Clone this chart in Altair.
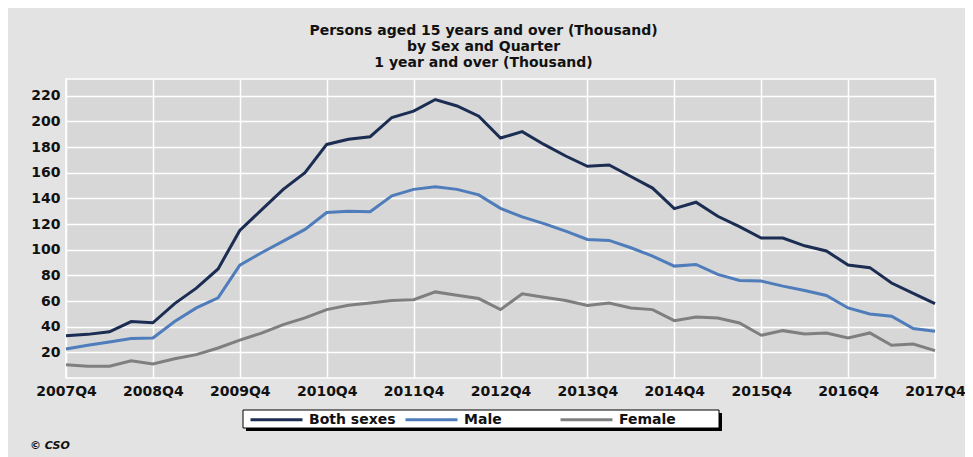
import altair as alt
import pandas as pd

# Quarter categories 2007Q4 .. 2017Q4
quarters = [f"{y}Q{q}" for y in range(2007, 2018) for q in range(1, 5)][3:]
year_labels = [f"{y}Q4" for y in range(2007, 2018)]

series = ["Both sexes", "Male", "Female"]
colors = ["#1b2d52", "#4f7cba", "#7f7f7f"]

both = [33, 34, 36, 44, 43, 58, 70, 85, 115, 131, 147, 160, 182, 186, 188, 203,
        208, 217, 212, 204, 187, 192, 182, 173, 165, 166, 157, 148, 132, 137, 126,
        118, 109, 109, 103, 99, 88, 86, 74, 66, 58]
male = [22.6, 25.5, 28, 30.7, 31.2, 44, 54.6, 62.4, 88, 97.6, 106.7, 115.8, 129,
        130, 129.6, 142, 147, 149, 147, 142.7, 132.2, 125.5, 120.3, 114.5, 108,
        107.2, 101.5, 95, 87.2, 88.5, 80.7, 76, 75.5, 71.6, 68.2, 64.3, 54.6, 49.9,
        48.1, 38.5, 36.4]
female = [10.4, 9.1, 9.1, 13.5, 10.9, 15, 18.2, 23.4, 29.5, 35, 41.6, 46.8, 53.3,
          56.7, 58.5, 60.4, 61, 67.1, 64.5, 61.9, 53.3, 65.6, 63, 60.4, 56.5, 58.5,
          54.6, 53.3, 44.7, 47.6, 46.8, 42.9, 33.3, 36.9, 34.3, 35.1, 31.2, 35.1,
          25.5, 26.5, 21.3]

y_ticks = list(range(20, 221, 20))

rows = []
for name, vals in zip(series, [both, male, female]):
    for q, v in zip(quarters, vals):
        rows.append({"quarter": q, "series": name, "value": v})
df = pd.DataFrame(rows)

FONT = "DejaVu Sans"

lines = alt.Chart(df).mark_line(strokeWidth=3).encode(
    x=alt.X("quarter:O",
            scale=alt.Scale(type="point", padding=0, domain=quarters),
            axis=alt.Axis(values=year_labels, labelAngle=0, title=None, grid=True,
                          gridColor="white", gridWidth=1.5, domain=False, ticks=False,
                          labelFont=FONT, labelFontWeight="bold", labelFontSize=14,
                          labelColor="#111111", labelPadding=6, labelOverlap=False,
                          labelBound=False)),
    y=alt.Y("value:Q",
            scale=alt.Scale(domain=[0, 233], nice=False, zero=False),
            axis=alt.Axis(values=y_ticks, title=None, grid=True, gridColor="white",
                          gridWidth=1.5, domain=False, ticks=False,
                          labelFont=FONT, labelFontWeight="bold", labelFontSize=14,
                          labelColor="#111111", labelPadding=6)),
    color=alt.Color("series:N",
                    scale=alt.Scale(domain=series, range=colors),
                    legend=alt.Legend(orient="none", legendX=183, legendY=313,
                                      direction="horizontal",
                                      gridAlign="all", columnPadding=3,
                                      symbolType="stroke", symbolSize=2704,
                                      symbolStrokeWidth=3, labelFont=FONT,
                                      labelFontSize=14, labelFontWeight="bold",
                                      labelColor="#111111", labelOffset=5,
                                      padding=0, title=None)),
    order=alt.Order("series:N"),
)

box_df = pd.DataFrame({"k": [0]})
shadow = alt.Chart(box_df).mark_rect(color="black").encode(
    x=alt.value(180), x2=alt.value(656), y=alt.value(334), y2=alt.value(352))
box = alt.Chart(box_df).mark_rect(fill="white", stroke="black", strokeWidth=1).encode(
    x=alt.value(177), x2=alt.value(653), y=alt.value(331), y2=alt.value(349))
cso = alt.Chart(box_df).mark_text(align="left", baseline="middle", font=FONT,
                                  fontSize=11, fontWeight="bold",
                                  fontStyle="italic", color="#111111").encode(
    x=alt.value(-36), y=alt.value(367), text=alt.value("© CSO"))

chart = alt.layer(shadow, box, lines, cso).properties(
    width=869, height=299,
    autosize=alt.AutoSizeParams(type="none"),
    padding={"left": 58, "top": 71, "right": 30, "bottom": 79},
    background="#e3e3e3",
    title=alt.Title(text=["Persons aged 15 years and over (Thousand)",
                          "by Sex and Quarter", "1 year and over (Thousand)"],
                    anchor="middle", dx=-17, font=FONT, fontSize=14,
                    fontWeight="bold", lineHeight=16, offset=9,
                    color="#111111"),
).configure_view(fill="#d7d7d7", stroke="white", strokeWidth=1.5)

chart.save("out.html", embed_options={"renderer": "svg", "actions": False})
